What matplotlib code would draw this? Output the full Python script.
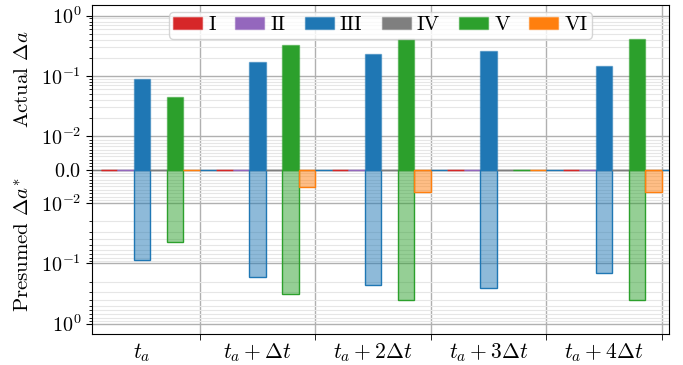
import numpy as np
import matplotlib
matplotlib.use("Agg")
from matplotlib import pyplot as plt
from matplotlib.ticker import FixedLocator, FixedFormatter

plt.rcParams['font.family'] = ['cmr10', 'DejaVu Serif']
plt.rcParams['mathtext.fontset'] = 'cm'
plt.rcParams['axes.formatter.use_mathtext'] = True

groups = [r'$t_a$', r'$t_a + \Delta t$', r'$t_a + 2\Delta t$', r'$t_a + 3\Delta t$', r'$t_a + 4\Delta t$']
labels = ['I', 'II', 'III', 'IV', 'V', 'VI']
colors = ['tab:red', 'tab:purple', 'tab:blue', 'tab:gray', 'tab:green', 'tab:orange']

# actual change per group (rows: I..VI)
actual = [
    [0, 0, 0, 0, 0],
    [0, 0, 0, 0, 0],
    [0.089, 0.171, 0.232, 0.261, 0.147],
    [0, 0, 0, 0, 0],
    [0.0455, 0.323, 0.406, 0, 0.406],
    [0, 0, 0, 0, 0],
]
# presumed change per group
presumed = [
    [0, 0, 0, 0, 0],
    [0, 0, 0, 0, 0],
    [0.088, 0.166, 0.229, 0.257, 0.145],
    [0, 0, 0, 0, 0],
    [0.0443, 0.318, 0.40, 0, 0.40],
    [0, 0.0051, 0.0067, 0, 0.0067],
]

x = np.arange(len(groups))
w = 1 / 7

fig = plt.figure(figsize=(6.83, 3.65), dpi=100)
ax = fig.add_axes([0.134, 0.084, 0.846, 0.902])

ax.set_yscale('symlog', linthresh=0.01, linscale=0.5)

for i in range(len(labels)):
    c = colors[i]
    ax.bar(x - 0.5 + (i + 1) * w, actual[i], width=w, align='edge', color=c,
           edgecolor=matplotlib.colors.to_rgba(c, 0.5), linewidth=1, label=labels[i], zorder=3)
    ax.bar(x - 0.5 + (i + 1) * w, -np.array(presumed[i]), width=w, align='edge',
           color=matplotlib.colors.to_rgba(c, 0.5), edgecolor=c, linewidth=1, zorder=3)

# zero-height blue marks in the first slot of the following groups
ax.bar(x + 0.5, np.zeros(len(x)), width=w, align='edge', color='tab:blue',
       edgecolor='tab:blue', linewidth=1, zorder=3)

ax.axhline(0, color='gray', lw=1, zorder=2)

ax.set_xlim(-0.435, 4.566)
ax.set_ylim(-1.5, 1.5)

ax.set_xticks(x)
ax.set_xticklabels(groups, fontsize=15.5)
ax.tick_params(axis='x', which='major', length=0, pad=5)
ax.set_xticks(x + 0.5, minor=True)
ax.tick_params(axis='x', which='minor', length=4)

yt = [-1, -0.1, -0.01, 0, 0.01, 0.1, 1]
ax.yaxis.set_major_locator(FixedLocator(yt))
ax.yaxis.set_major_formatter(FixedFormatter([r'$10^{0}$', r'$10^{-1}$', r'$10^{-2}$', r'$0.0$',
                                             r'$10^{-2}$', r'$10^{-1}$', r'$10^{0}$']))
minor = []
for dec in [0.01, 0.1]:
    for s in range(2, 10):
        minor += [dec * s, -dec * s]
for s in range(1, 10):
    minor += [0.001 * s, -0.001 * s]
ax.yaxis.set_minor_locator(FixedLocator(minor))
ax.tick_params(axis='y', which='major', labelsize=14.5, length=4)
ax.tick_params(axis='y', which='minor', length=2)

ax.grid(True, which='major', axis='y', color='#b0b0b0', lw=1, zorder=0)
ax.grid(True, which='minor', axis='y', color='#e6e6e6', lw=0.8, zorder=0)
ax.grid(True, which='minor', axis='x', color='#b0b0b0', lw=1, zorder=0)
ax.set_axisbelow(True)

fig.text(0.034, 0.782, r'Actual $\Delta a$', rotation=90, ha='center', va='center', fontsize=15)
fig.text(0.034, 0.329, r'Presumed $\Delta a^{*}$', rotation=90, ha='center', va='center', fontsize=15)

ax.legend(loc='upper left', ncol=6, fontsize=15, mode='expand', handlelength=1.4,
          handleheight=0.5, handletextpad=0.3, borderpad=0.2, borderaxespad=0,
          bbox_to_anchor=(0.134, 0.978, 0.732, 0))

fig.savefig('out.png', dpi=100)
